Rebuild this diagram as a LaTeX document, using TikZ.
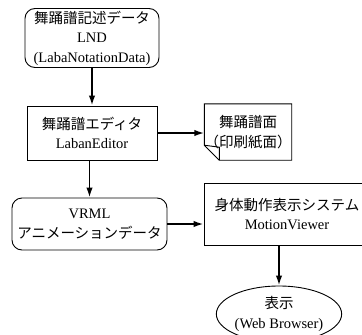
\documentclass[tikz,border=0pt]{standalone}
\usepackage{fontspec}
\setmainfont{Liberation Serif}
\newfontfamily\jp{Noto Sans CJK JP}
\usetikzlibrary{shapes.geometric,arrows.meta,calc}
\tikzset{
  lbl/.style={font=\fontsize{14.5}{19.5}\selectfont, align=center, inner sep=0pt},
  roundbox/.style={lbl, draw, line width=0.9pt, rounded corners=10pt},
  sqbox/.style={lbl, draw, line width=0.9pt},
  flow/.style={line width=1.8pt, -{Latex[length=10pt,width=6.5pt]}},
  outline/.style={line width=0.9pt, line join=miter}
}
\begin{document}
\begin{tikzpicture}[x=1pt, y=-1pt]
  \useasboundingbox (0,0) rectangle (362,335);
  \clip (0,0) rectangle (362,335);

  % data and processing boxes
  \node[roundbox, minimum width=134pt, minimum height=59pt] (lnd) at (92,38)
    {{\jp 舞踊譜記述データ}\\LND\\(LabaNotationData)};
  \node[sqbox, minimum width=130pt, minimum height=54pt] (editor) at (92,133)
    {{\jp 舞踊譜エディタ}\\LabanEditor};
  \node[roundbox, minimum width=155pt, minimum height=52pt] (vrml) at (89.5,224)
    {VRML\\{\jp アニメーションデータ}};
  \node[sqbox, minimum width=166pt, minimum height=62pt] (viewer) at (287,214)
    {{\jp 身体動作表示システム}\\MotionViewer};
  \node[lbl, draw, ellipse, line width=0.9pt, minimum width=122pt, minimum height=56pt] (display) at (279,314)
    {{\jp 表示}\\(Web Browser)};

  % printed sheet with a folded lower-left corner
  \node[lbl, minimum width=84pt, minimum height=56pt] (doc) at (248,132)
    {{\jp 舞踊譜面}\\{\jp （印刷紙面）}};
  \draw[outline] (doc.north west) -- (doc.north east) -- (doc.south east)
    -- ($(doc.south west)+(15,0)$) -- ($(doc.south west)+(0,-15)$) -- cycle;
  \draw[outline] ($(doc.south west)+(0,-15)$) -- ($(doc.south west)+(15,-13)$)
    -- ($(doc.south west)+(15,0)$);

  % data flow
  \draw[flow] (lnd.south -| editor.north) -- (editor.north);
  \draw[flow] (editor.east) -- (editor.east -| doc.west);
  \draw[flow] (editor.south -| vrml.north) -- (vrml.north);
  \draw[flow] (vrml.east) -- (vrml.east -| viewer.west);
  \draw[flow] (viewer.south -| display.north) -- (display.north);
\end{tikzpicture}
\end{document}
